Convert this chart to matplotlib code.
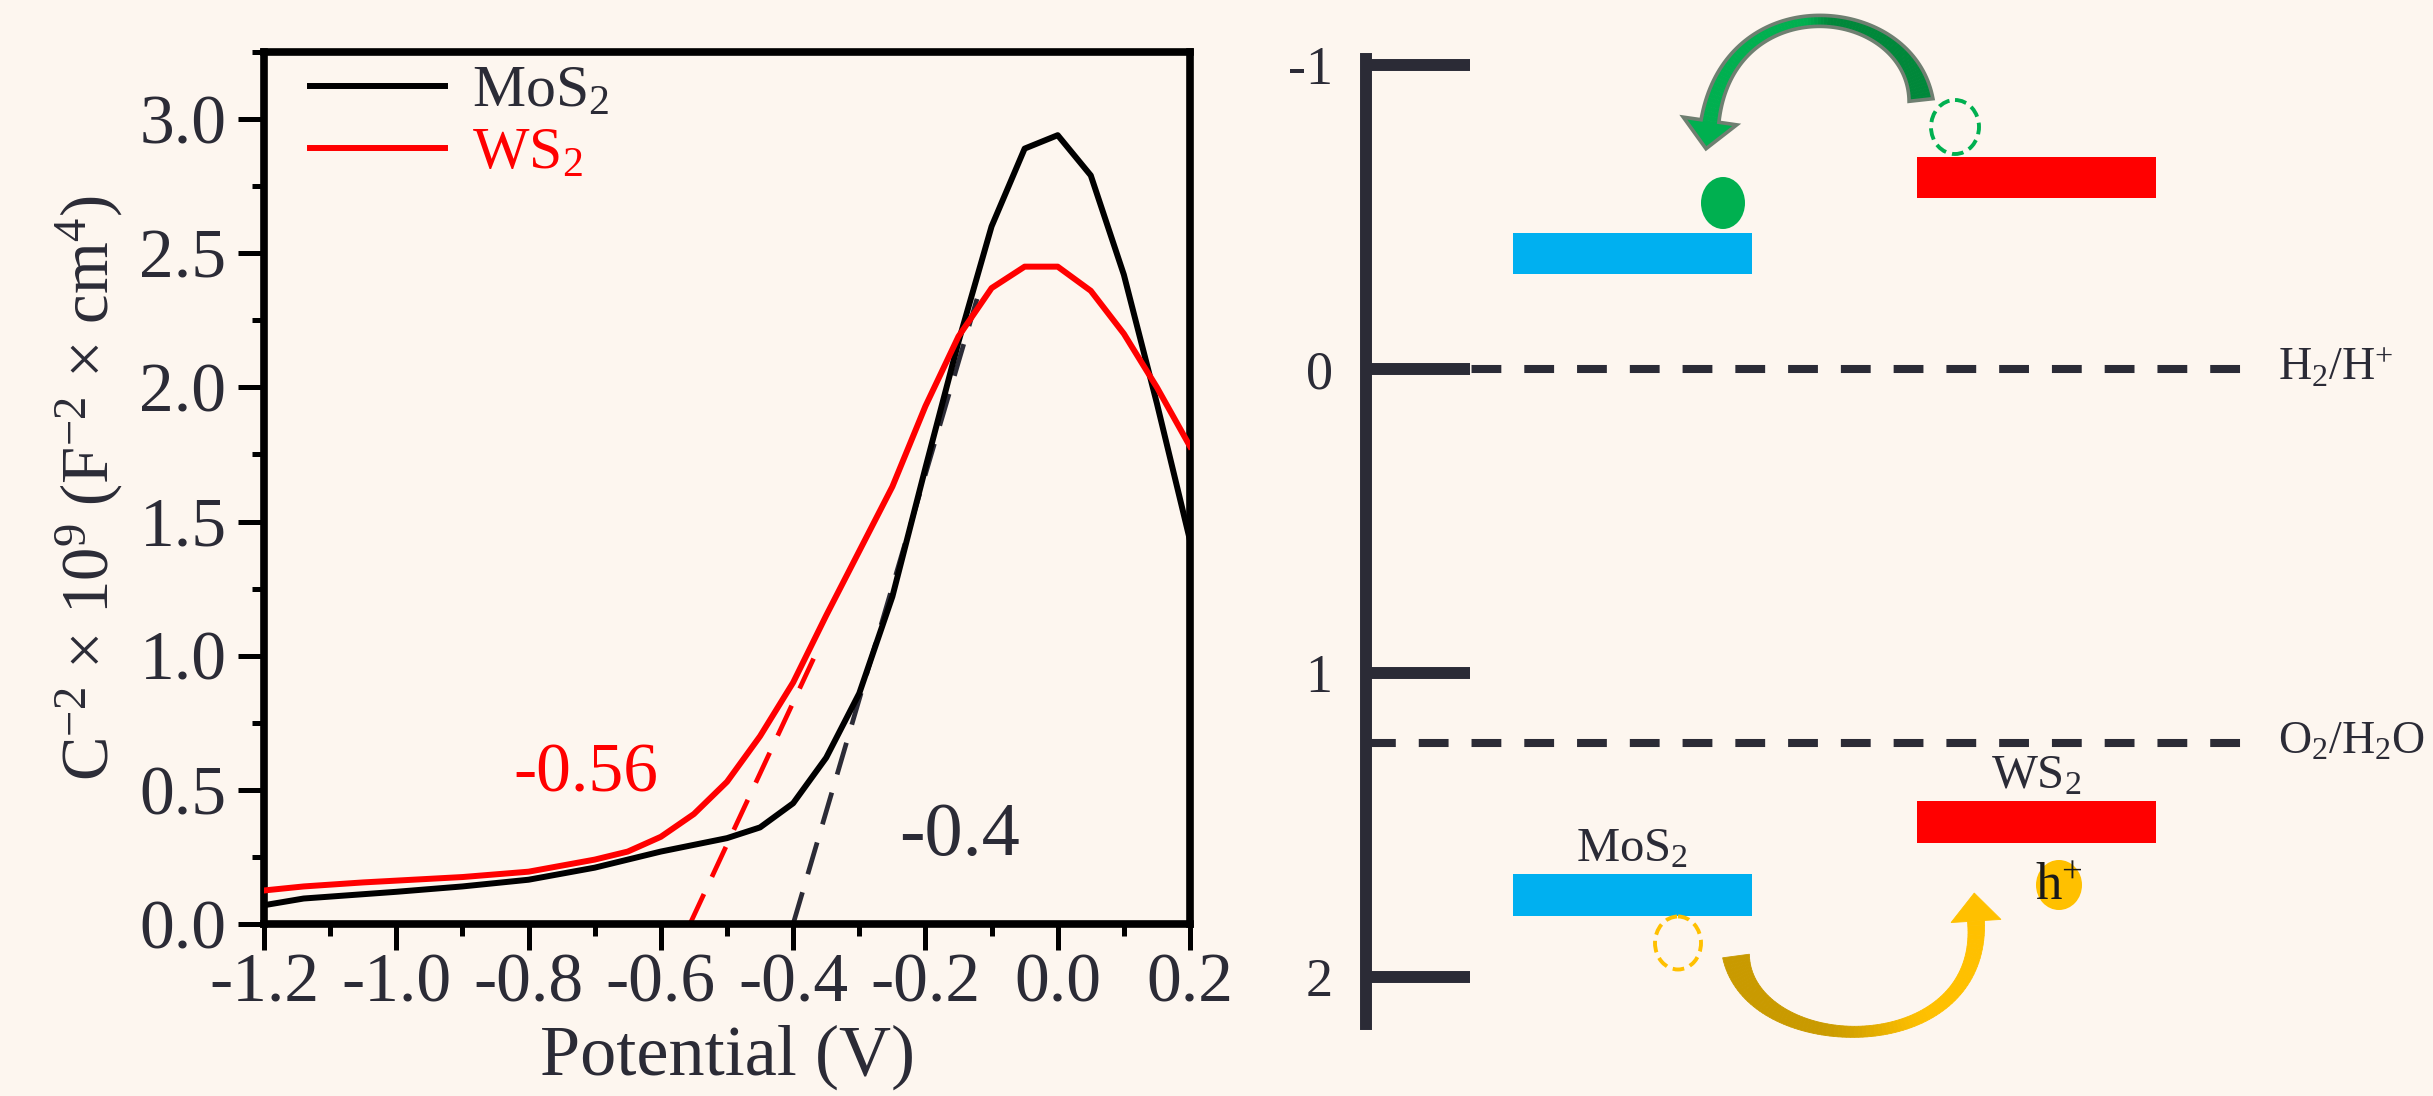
import numpy as np
import matplotlib
matplotlib.use("Agg")
import matplotlib.pyplot as plt
from matplotlib.patches import Ellipse, Polygon
from matplotlib.ticker import MultipleLocator

plt.rcParams["font.family"] = ["Liberation Serif", "DejaVu Serif"]
plt.rcParams["mathtext.fontset"] = "custom"
plt.rcParams["mathtext.rm"] = "Liberation Serif"
plt.rcParams["mathtext.it"] = "Liberation Serif:italic"
plt.rcParams["axes.unicode_minus"] = False

BG = "#fdf6ef"
DARK = "#2b2b36"
BLUE = "#00b0f0"
RED = "#ff0000"
GREEN = "#00b050"
GREEN_DARK = "#00883a"
GOLD_DARK = "#c99a00"
GOLD = "#ffc000"

# Mott-Schottky data (left panel)
potential_mos2 = [-1.2, -1.14, -1.0, -0.9, -0.8, -0.7, -0.6, -0.5, -0.45, -0.4, -0.35,
                  -0.3, -0.25, -0.2, -0.15, -0.1, -0.05, 0.0, 0.05, 0.1, 0.15, 0.2]
c2_mos2 = [0.07, 0.095, 0.12, 0.14, 0.165, 0.21, 0.27, 0.32, 0.36, 0.45, 0.62,
           0.86, 1.22, 1.70, 2.17, 2.60, 2.89, 2.94, 2.79, 2.42, 1.94, 1.43]
potential_ws2 = [-1.2, -1.14, -1.05, -0.9, -0.8, -0.7, -0.65, -0.6, -0.55, -0.5, -0.45, -0.4,
                 -0.35, -0.3, -0.25, -0.2, -0.15, -0.1, -0.05, 0.0, 0.05, 0.1, 0.15, 0.2]
c2_ws2 = [0.125, 0.14, 0.155, 0.175, 0.195, 0.24, 0.27, 0.325, 0.41, 0.53, 0.70, 0.90,
          1.15, 1.39, 1.63, 1.93, 2.19, 2.37, 2.45, 2.45, 2.36, 2.20, 2.00, 1.78]
tangent_mos2_x = [-0.40, -0.122]
tangent_mos2_y = [0.0, 2.33]
tangent_ws2_x = [-0.556, -0.369]
tangent_ws2_y = [0.0, 0.99]
flatband_labels = ["-0.4", "-0.56"]

# band diagram data (right panel), potential in V
energy_ticks = [-1, 0, 1, 2]
energy_tick_labels = ["-1", "0", "1", "2"]
materials = ["MoS$_\\mathregular{2}$", "WS$_\\mathregular{2}$"]
cb_level = [-0.38, -0.63]
vb_level = [1.73, 1.49]
band_colors = [BLUE, RED]
redox_level = [0.0, 1.23]
redox_labels = ["H$_\\mathregular{2}$/H$^\\mathregular{+}$", "O$_\\mathregular{2}$/H$_\\mathregular{2}$O"]

W, H = 2433, 1096
fig = plt.figure(figsize=(W / 100, H / 100), dpi=100, facecolor=BG)

# ---------------- left: Mott-Schottky ----------------
ax = fig.add_axes([264 / W, 1 - 924 / H, 926 / W, 872 / H])
ax.set_facecolor(BG)
ax.plot(potential_mos2, c2_mos2, color="black", lw=4.3, label="MoS$_\\mathregular{2}$", zorder=3)
ax.plot(potential_ws2, c2_ws2, color=RED, lw=4.3, label="WS$_\\mathregular{2}$", zorder=3)
ax.plot(tangent_mos2_x, tangent_mos2_y, color=DARK, lw=3.4, ls=(0, (7, 4)), zorder=2)
ax.plot(tangent_ws2_x, tangent_ws2_y, color=RED, lw=3.4, ls=(0, (7, 4)), zorder=2)
ax.text(-0.149, 0.325, flatband_labels[0], color=DARK, fontsize=55, ha="center", va="center")
ax.text(-0.713, 0.556, flatband_labels[1], color=RED, fontsize=50, ha="center", va="center")

ax.set_xlim(-1.2, 0.2)
ax.set_ylim(0, 3.25)
ax.xaxis.set_major_locator(MultipleLocator(0.2))
ax.xaxis.set_minor_locator(MultipleLocator(0.1))
ax.yaxis.set_major_locator(MultipleLocator(0.5))
ax.yaxis.set_minor_locator(MultipleLocator(0.25))
ax.xaxis.set_major_formatter(lambda v, p: f"{v:.1f}".replace("-0.0", "0.0"))
ax.yaxis.set_major_formatter(lambda v, p: f"{v:.1f}")
ax.tick_params(which="both", direction="out", top=False, right=False, color="black",
               labelcolor=DARK, labelsize=50)
ax.tick_params(which="major", length=19, width=3.6)
ax.tick_params(which="minor", length=8.5, width=3.6)
ax.tick_params(axis="x", pad=2)
ax.tick_params(axis="y", pad=8)
for s in ax.spines.values():
    s.set_linewidth(5.5)
    s.set_color("black")
ax.set_xlabel("Potential (V)", fontsize=52, color=DARK, labelpad=6)
ax.set_ylabel("C$^\\mathregular{-2}$ \u00d7 10$^\\mathregular{9}$ (F$^\\mathregular{-2}$ \u00d7 cm$^\\mathregular{4}$)",
              fontsize=48, color=DARK, labelpad=10)
leg = ax.legend(loc="upper left", bbox_to_anchor=(0.05, 0.985), frameon=False, fontsize=43,
                handlelength=2.25, handletextpad=0.45, labelspacing=0.12, borderpad=0,
                borderaxespad=0)
for txt, c in zip(leg.get_texts(), [DARK, RED]):
    txt.set_color(c)

# ---------------- right: band diagram ----------------
E0_PX, PX_PER_V = 369, 304
ax2 = fig.add_axes([1250 / W, 0, 1183 / W, 1])
ax2.patch.set_alpha(0)
ax2.set_xlim(1250, 2433)
ax2.set_ylim((H - E0_PX) / PX_PER_V, (0 - E0_PX) / PX_PER_V)

ax2.hlines(redox_level, 1366, 2243, colors=DARK, lw=5.8, linestyles=[(0, (3.7, 2.85))], zorder=1)
for lvl, lab in zip(redox_level, redox_labels):
    ax2.text(2278, lvl, lab, fontsize=33, color=DARK, ha="left", va="center")

bar_left = [1513, 1917]
bar_len = 239
bar_thick = 0.138
ax2.barh(cb_level, bar_len, left=bar_left, height=bar_thick, color=band_colors, zorder=3)
ax2.barh(vb_level, bar_len, left=bar_left, height=bar_thick, color=band_colors, zorder=3)
for x0, vb, name in zip(bar_left, vb_level, materials):
    ax2.text(x0 + bar_len / 2, vb - bar_thick / 2 - 0.04, name, fontsize=35, color=DARK,
             ha="center", va="baseline")

ax2.set_xticks([])
ax2.set_yticks(energy_ticks)
ax2.set_yticklabels(energy_tick_labels)
for k in ["top", "right", "bottom"]:
    ax2.spines[k].set_visible(False)
ax2.spines["left"].set_position(("data", 1366))
ax2.spines["left"].set_bounds(-1.02, 2.155)
ax2.spines["left"].set_linewidth(8.6)
ax2.spines["left"].set_color(DARK)
ax2.tick_params(axis="y", direction="in", length=75, width=8.6, color=DARK, pad=24,
                labelsize=39, labelcolor=DARK)

# ---------------- overlay: charge carriers and transfer arrows (pixel units) ----------------
ov = fig.add_axes([0, 0, 1, 1])
ov.set_xlim(0, W)
ov.set_ylim(H, 0)
ov.axis("off")
ov.patch.set_alpha(0)


def mix(c0, c1, f):
    a = np.array(matplotlib.colors.to_rgb(c0))
    b = np.array(matplotlib.colors.to_rgb(c1))
    return tuple(a + (b - a) * f)


def curved_arrow(axis, ctrl, w0, wmid, w1, head_len, head_w, c0, c1, blend, edge=None, n=90):
    p = np.array(ctrl, dtype=float)
    t = np.linspace(0, 1, n)[:, None]
    pts = ((1 - t) ** 3) * p[0] + 3 * ((1 - t) ** 2) * t * p[1] + 3 * (1 - t) * t ** 2 * p[2] + t ** 3 * p[3]
    d = 3 * ((1 - t) ** 2) * (p[1] - p[0]) + 6 * (1 - t) * t * (p[2] - p[1]) + 3 * t ** 2 * (p[3] - p[2])
    d = d / np.linalg.norm(d, axis=1, keepdims=True)
    nrm = np.column_stack([-d[:, 1], d[:, 0]])
    tt = t[:, 0]
    w = np.where(tt < 0.5, wmid + (w0 - wmid) * (1 - 2 * tt) ** 2, wmid + (w1 - wmid) * (2 * tt - 1) ** 2)
    w = (w / 2)[:, None]
    left = pts + nrm * w
    right = pts - nrm * w
    f = np.clip((tt - blend[0]) / (blend[1] - blend[0]), 0, 1)
    f = f * f * (3 - 2 * f)
    for i in range(n - 1):
        col = mix(c0, c1, f[i])
        quad = [left[i], left[i + 1], right[i + 1], right[i]]
        axis.add_patch(Polygon(quad, closed=True, facecolor=col, edgecolor=col, lw=0.6))
    tip = pts[-1] + d[-1] * head_len
    head = [pts[-1] + nrm[-1] * head_w / 2, tip, pts[-1] - nrm[-1] * head_w / 2]
    axis.add_patch(Polygon(head, closed=True, facecolor=c1, edgecolor=c1, lw=0.6))
    if edge is not None:
        outline = np.vstack([left, head, right[::-1]])
        axis.add_patch(Polygon(outline, closed=True, facecolor="none", edgecolor=edge,
                               lw=2.6, joinstyle="miter"))


# electron transfer WS2 CB -> MoS2 CB
curved_arrow(ov, [(1921, 100), (1910, 0), (1730, -18), (1710, 121)], 24, 11, 18, 28, 54,
             GREEN_DARK, GREEN, (0.45, 0.55), edge="#6f7f71")
# hole transfer MoS2 VB -> WS2 VB
curved_arrow(ov, [(1736, 956), (1750, 1060), (1985, 1065), (1976, 921)], 27, 11, 17, 28, 50,
             GOLD_DARK, GOLD, (0.35, 0.7))

ov.add_patch(Ellipse((1723, 203), 44, 52, facecolor=GREEN, edgecolor="none"))
ov.add_patch(Ellipse((1955, 127), 48, 54, fill=False, edgecolor=GREEN, lw=2.8, ls=(0, (3, 1.6))))
ov.add_patch(Ellipse((1678, 943), 46, 53, fill=False, edgecolor=GOLD, lw=2.8, ls=(0, (3, 1.6))))
ov.add_patch(Ellipse((2059, 885), 46, 50, facecolor=GOLD, edgecolor="none"))
ov.text(2059, 887, "h$^\\mathregular{+}$", fontsize=38, color="#1a1a1a", ha="center", va="center")

fig.savefig("out.png", dpi=100, facecolor=BG)
